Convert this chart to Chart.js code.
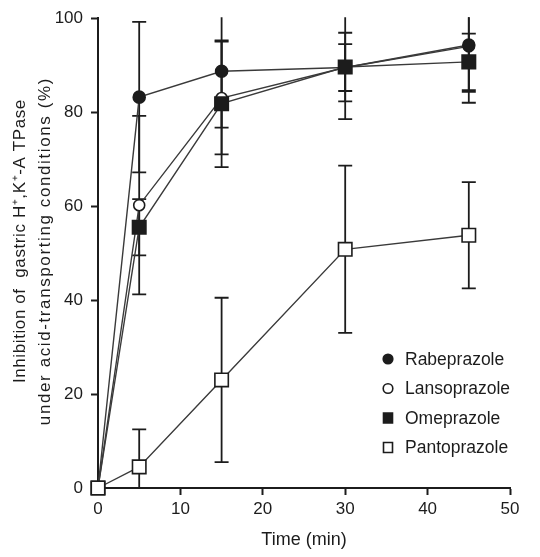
<!DOCTYPE html>
<html>
<head>
<meta charset="utf-8">
<script src="https://cdn.jsdelivr.net/npm/chart.js@4.4.1/dist/chart.umd.min.js"></script>
<style>
  html, body { margin:0; padding:0; background:#fff; }
  #wrap { width:540px; height:557px; }
</style>
</head>
<body>
<div id="wrap"><canvas id="c" width="540" height="557"></canvas></div>
<script>
// time points (min)
const times = [0, 5, 15, 30, 45];
const names = ["Rabeprazole", "Lansoprazole", "Omeprazole", "Pantoprazole"];

// mean inhibition (%)
const rabe  = [0, 83.2, 88.7, 89.5, 94.3];
const lanso = [0, 60.2, 83.0, 89.5, 94.0];
const omep  = [0, 55.5, 81.8, 89.6, 90.7];
const panto = [0, 4.5, 23.0, 50.8, 53.8];

// SD (+/-)
const rabeErr  = [0, 16, 12, 11, 10];
const lansoErr = [0, 19, 12, 5, 12];
const omepErr  = [0, 6, 13.5, 7.3, 6];
const pantoErr = [0, 8, 17.5, 17.8, 11.3];

const xTicks = [0, 10, 20, 30, 40, 50];
const yTicks = [0, 20, 40, 60, 80, 100];
const yTitle = ['Inhibition of  gastric H\u207A,K\u207A-A TPase', 'under acid-transporting conditions (%)'];

const ink = "#1c1c1c";
const family = "Arial, 'Liberation Sans', sans-serif";
const font = { family, size: 17 };

function pts(vals){ return times.map((t,i) => ({ x:t, y:vals[i] })); }

const styles = [
  { pointStyle:'circle', fill:ink,    r:6,   order:2 },
  { pointStyle:'circle', fill:'#fff', r:5.5, order:3 },
  { pointStyle:'rect',   fill:ink,    r:9.5, order:1 },
  { pointStyle:'rect',   fill:'#fff', r:9.5, order:0 }
];
const series = [rabe, lanso, omep, panto];
const errs = [rabeErr, lansoErr, omepErr, pantoErr];

const datasets = series.map((s,i) => ({
  label: names[i],
  data: pts(s),
  errors: errs[i],
  showLine: true,
  borderColor: '#3a3a3a',
  borderWidth: 1.4,
  pointStyle: styles[i].pointStyle,
  pointRadius: styles[i].r,
  pointBackgroundColor: styles[i].fill,
  pointBorderColor: ink,
  pointBorderWidth: 1.6,
  order: styles[i].order,
  clip: false
}));

// vertical SD bars, behind the markers
const errorBars = {
  id: 'errorBars',
  beforeDatasetsDraw(chart){
    const {ctx, chartArea, scales:{x, y}} = chart;
    ctx.save();
    ctx.beginPath();
    ctx.rect(chartArea.left, chartArea.top - 1, chartArea.right - chartArea.left, chartArea.bottom - chartArea.top + 1);
    ctx.clip();
    ctx.strokeStyle = ink;
    ctx.lineWidth = 1.8;
    chart.data.datasets.forEach(ds => {
      ds.data.forEach((p,i) => {
        const e = ds.errors[i];
        if(!e) return;
        const px = x.getPixelForValue(p.x);
        const hi = y.getPixelForValue(p.y + e);
        const lo = y.getPixelForValue(p.y - e);
        ctx.beginPath();
        ctx.moveTo(px, hi); ctx.lineTo(px, lo);
        ctx.moveTo(px - 7, hi); ctx.lineTo(px + 7, hi);
        ctx.moveTo(px - 7, lo); ctx.lineTo(px + 7, lo);
        ctx.stroke();
      });
    });
    ctx.restore();
  }
};

// rotated two-line y title (letter spaced like the original)
const yTitlePlugin = {
  id: 'yTitlePlugin',
  afterDraw(chart){
    const {ctx, chartArea} = chart;
    const cy = (chartArea.top + chartArea.bottom) / 2;
    const lines = [ { x:20, dy:-12, sp:'0.6px' }, { x:45, dy:-2, sp:'1.6px' } ];
    ctx.save();
    ctx.font = "17px " + family;
    ctx.fillStyle = ink;
    ctx.textAlign = 'center';
    ctx.textBaseline = 'middle';
    lines.forEach((l,i) => {
      ctx.save();
      ctx.letterSpacing = l.sp;
      ctx.translate(l.x, cy + l.dy);
      ctx.rotate(-Math.PI/2);
      ctx.fillText(yTitle[i], 0, 0);
      ctx.restore();
    });
    ctx.restore();
  }
};

// legend inside the plot, lower right
const insideLegend = {
  id: 'insideLegend',
  afterDraw(chart){
    const {ctx} = chart;
    const x0 = 388, y0 = 359, step = 29.5;
    ctx.save();
    ctx.font = "17.5px " + family;
    ctx.textBaseline = 'middle';
    names.forEach((n,i) => {
      const yy = y0 + i*step;
      ctx.fillStyle = styles[i].fill;
      ctx.strokeStyle = ink;
      ctx.lineWidth = 1.6;
      ctx.beginPath();
      if(styles[i].pointStyle === 'circle') ctx.arc(x0, yy, 4.8, 0, Math.PI*2);
      else ctx.rect(x0 - 4.5, yy - 5, 9, 10);
      ctx.fill(); ctx.stroke();
      ctx.fillStyle = ink;
      ctx.fillText(n, x0 + 17, yy + 1);
    });
    ctx.restore();
  }
};

new Chart(document.getElementById('c').getContext('2d'), {
  type: 'scatter',
  data: { datasets },
  plugins: [errorBars, yTitlePlugin, insideLegend],
  options: {
    responsive: false,
    animation: false,
    layout: { padding: { top: 18, right: 30, left: 0, bottom: 0 } },
    plugins: { legend: { display:false }, tooltip: { enabled:false } },
    scales: {
      x: {
        type: 'linear', min: 0, max: 50,
        afterBuildTicks: s => { s.ticks = xTicks.map(v => ({ value:v })); },
        afterFit: s => { s.height = 69; },
        border: { color: ink, width: 2 },
        grid: { drawOnChartArea:false, tickLength:7, color:ink, tickWidth:2 },
        ticks: { color: ink, font, padding: 4 },
        title: { display:true, text:'Time (min)', color: ink, font: { family, size: 18 }, padding:{ top:0, bottom:6 } }
      },
      y: {
        type: 'linear', min: 0, max: 100,
        afterBuildTicks: s => { s.ticks = yTicks.map(v => ({ value:v })); },
        afterFit: s => { s.width = 98; },
        border: { color: ink, width: 2 },
        grid: { drawOnChartArea:false, tickLength:7, color:ink, tickWidth:2 },
        ticks: { color: ink, font, padding: 8 }
      }
    }
  }
});
</script>
</body>
</html>
